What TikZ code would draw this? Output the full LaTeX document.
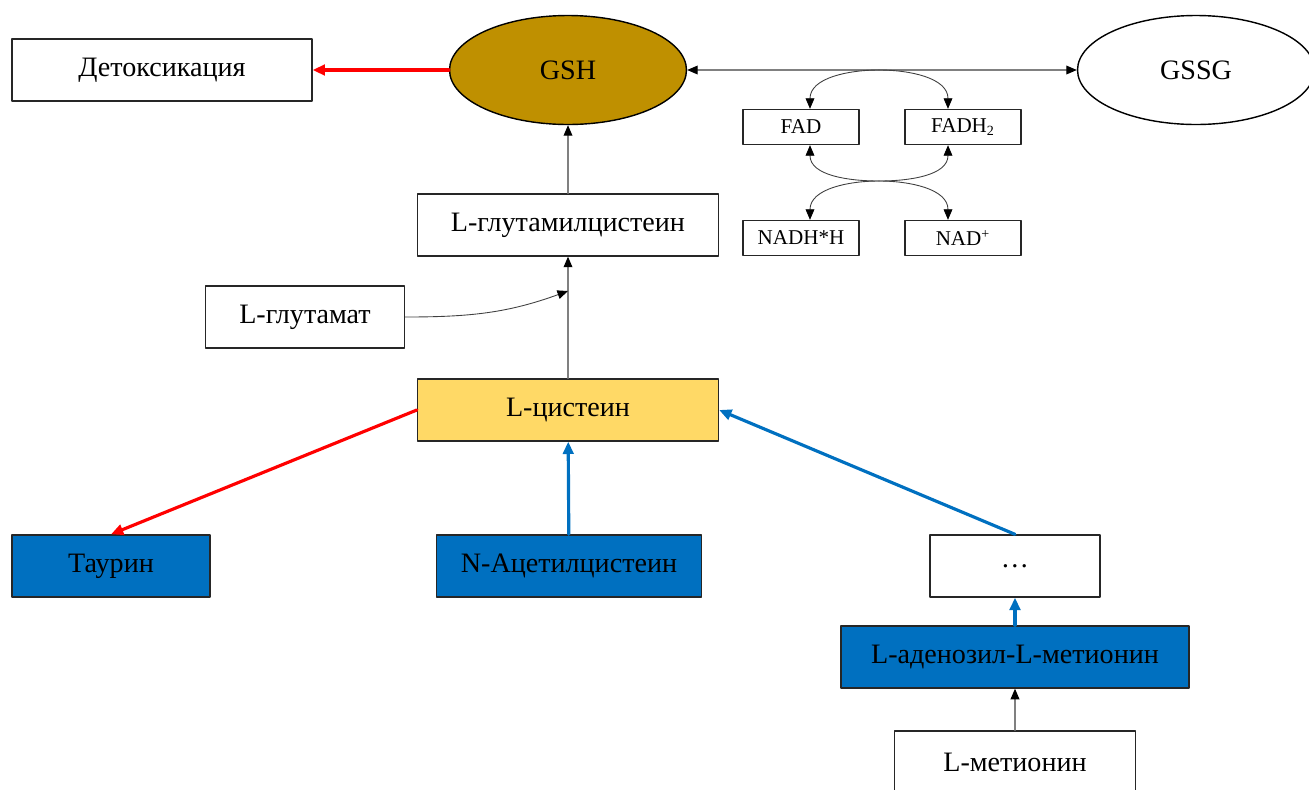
\documentclass[tikz,border=0pt]{standalone}
\usepackage{fontspec}
\setmainfont{Liberation Serif}
\usepackage{xcolor}
\usepackage{tikz}
\usetikzlibrary{arrows.meta,shapes.geometric}
\definecolor{gshgold}{HTML}{BF9000}
\definecolor{cysyellow}{HTML}{FFD966}
\definecolor{pathblue}{HTML}{0070C0}
\definecolor{linkgrey}{HTML}{808080}

\tikzset{
  box/.style={draw=black!85, line width=0.8pt, minimum height=1.24cm, inner sep=0pt, font=\fontsize{16}{18}\selectfont},
  smallbox/.style={draw=black!85, line width=0.8pt, minimum width=2.32cm, minimum height=0.70cm, inner sep=0pt, font=\fontsize{12}{14}\selectfont},
  oval/.style={ellipse, draw=black, line width=0.8pt, minimum width=4.74cm, minimum height=2.18cm, inner sep=0pt, font=\fontsize{16}{18}\selectfont},
  link/.style={linkgrey, line width=0.6pt, -{Triangle[black, length=6pt, width=5pt]}},
  cyclelink/.style={black!75, line width=0.5pt, -{Triangle[black, length=6pt, width=5pt]}},
  redlink/.style={red, line width=1.8pt, -{Triangle[length=7pt, width=6pt]}},
  bluelink/.style={pathblue, line width=1.8pt, -{Triangle[length=7pt, width=6pt]}}
}

\begin{document}
\begin{tikzpicture}[x=0.02cm, y=0.02cm, line cap=round, line join=round]
  \useasboundingbox (0,0) rectangle (1309,-789);
  % top row
  \node[box, minimum width=6cm] (detox) at (162,-70) {Детоксикация};
  \node[oval, fill=gshgold] (gsh) at (568,-70) {GSH};
  \node[oval, fill=white] (gssg) at (1196,-70) {GSSG};
  % cofactors
  \node[smallbox] (fad) at (801,-127) {FAD};
  \node[smallbox] (fadh) at (963,-127) {FADH\textsubscript{2}};
  \node[smallbox] (nadh) at (801,-238) {NADH*H};
  \node[smallbox] (nad) at (963,-238) {NAD\textsuperscript{+}};
  \coordinate (ctop) at (879,-70);
  \coordinate (cmid) at (879,-181);
  % synthesis chain
  \node[box, minimum width=6.02cm] (glucys) at (568,-225) {L-глутамилцистеин};
  \node[box, minimum width=3.98cm] (glut) at (305,-317) {L-глутамат};
  \node[box, minimum width=6.02cm, fill=cysyellow] (cys) at (568,-410) {L-цистеин};
  \coordinate (join) at (568,-291);
  % sources
  \node[box, minimum width=3.96cm, fill=pathblue] (taur) at (111,-566) {Таурин};
  \node[box, minimum width=5.3cm, fill=pathblue] (nac) at (569,-566) {N-Ацетилцистеин};
  \node[box, minimum width=3.4cm] (dots) at (1015,-566) {\dots};
  \node[box, minimum width=6.96cm, fill=pathblue] (same) at (1015,-657) {L-аденозил-L-метионин};
  \node[box, minimum width=4.82cm] (met) at (1015,-762) {L-метионин};

  % connectors
  \draw[redlink] (gsh) -- (detox);
  \draw[link, {Triangle[black, length=6pt, width=5pt]}-{Triangle[black, length=6pt, width=5pt]}] (gsh) -- (gssg);
  \draw[link] (glucys) -- (gsh);
  \draw[link] (cys) -- (glucys);
  \draw[cyclelink] (glut.east) to[out=0, in=200] (join);
  \draw[redlink] (cys.west) -- (taur.north);
  \draw[bluelink] (nac) -- (cys);
  \draw[bluelink] (dots.north) -- (cys.east);
  \draw[bluelink] (same) -- (dots);
  \draw[link] (met) -- (same);
  % FAD / NAD cycle
  \draw[cyclelink] (ctop) to[out=180, in=90] ([xshift=0.18cm]fad.north);
  \draw[cyclelink] (ctop) to[out=0, in=90] ([xshift=-0.3cm]fadh.north);
  \draw[cyclelink] (cmid) to[out=180, in=-90] ([xshift=0.18cm]fad.south);
  \draw[cyclelink] (cmid) to[out=0, in=-90] ([xshift=-0.3cm]fadh.south);
  \draw[cyclelink] (cmid) to[out=180, in=90] ([xshift=0.18cm]nadh.north);
  \draw[cyclelink] (cmid) to[out=0, in=90] ([xshift=-0.3cm]nad.north);
\end{tikzpicture}
\end{document}
